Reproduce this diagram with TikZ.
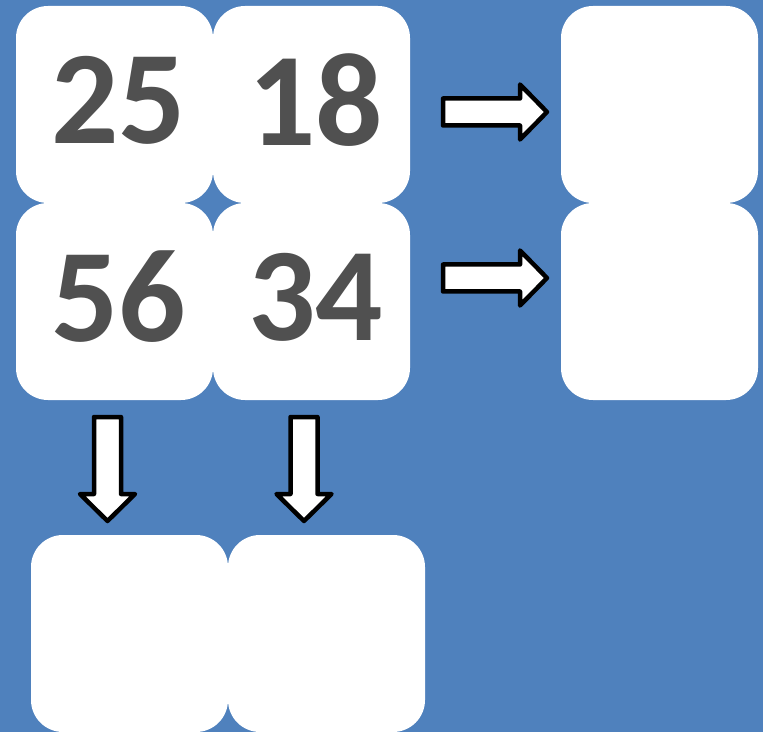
\documentclass[tikz,border=0pt]{standalone}
\usepackage{fontspec}
\setmainfont{Carlito}
\usepackage{tikz}

\definecolor{slideblue}{HTML}{4F81BD}
\definecolor{numgray}{HTML}{505050}

\tikzset{
    card/.style={fill=white, rounded corners=32pt, minimum size=197pt, inner sep=0pt},
    num/.style={text=numgray, font=\fontsize{133}{140}\selectfont\bfseries, inner sep=0pt},
    arrowline/.style={draw=black, fill=white, line width=4.5pt, line join=round},
    rightarrow/.pic={\draw[arrowline] (-52,-13.5) -- (25,-13.5) -- (25,-27.5) -- (52,0) -- (25,27.5) -- (25,13.5) -- (-52,13.5) -- cycle;},
    downarrow/.pic={\draw[arrowline] (-13.5,52) -- (-13.5,-25) -- (-27.5,-25) -- (0,-52) -- (27.5,-25) -- (13.5,-25) -- (13.5,52) -- cycle;}
}

\begin{document}
\begin{tikzpicture}[x=1pt, y=1pt]
    % Background
    \fill[slideblue] (0,0) rectangle (763,732);

    % Number cards
    \node[card] (c25) at (114.5,627.5) {};
    \node[card] (c18) at (311.5,627.5) {};
    \node[card] (c56) at (114.5,430.5) {};
    \node[card] (c34) at (311.5,430.5) {};

    % Empty cards, right and below
    \node[card] (r1) at (659.5,627.5) {};
    \node[card] (r2) at (659.5,430.5) {};
    \node[card] (d1) at (129.5,98.5) {};
    \node[card] (d2) at (326.5,98.5) {};

    % Numbers
    \node[num] (t25) at ([xshift=4pt,yshift=4.5pt]c25.center) {25};
    \node[num] (t18) at ([xshift=4pt,yshift=4.5pt]c18.center) {18};
    \node[num] (t56) at ([xshift=4pt,yshift=4.5pt]c56.center) {56};
    \node[num] (t34) at ([xshift=4pt,yshift=4.5pt]c34.center) {34};

    % Block arrows
    \pic at (495,620) {rightarrow};
    \pic at (495,454) {rightarrow};
    \pic at (107.5,263) {downarrow};
    \pic at (304,263) {downarrow};
\end{tikzpicture}
\end{document}
